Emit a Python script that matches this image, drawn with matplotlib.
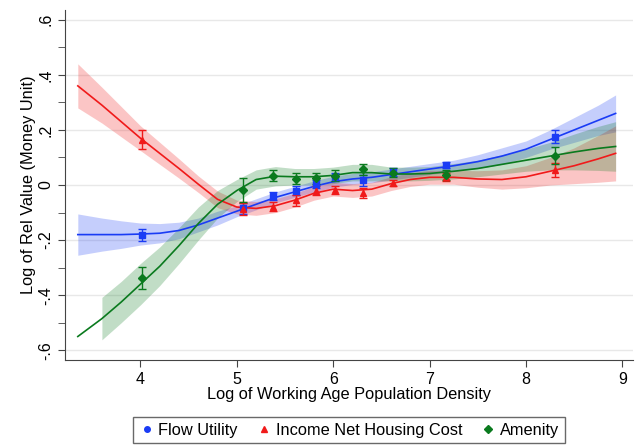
import numpy as np
import matplotlib
matplotlib.use('Agg')
import matplotlib.pyplot as plt
from matplotlib.lines import Line2D

plt.rcParams['font.family'] = ['Liberation Sans', 'DejaVu Sans']

# smoothed curves
curve_x = [3.35, 3.6, 3.8, 4.0, 4.2, 4.4, 4.6, 4.8, 5.0, 5.2, 5.4, 5.6, 5.8, 6.0,
           6.2, 6.4, 6.6, 6.8, 7.0, 7.25, 7.5, 7.75, 8.0, 8.25, 8.5, 8.75, 8.93]
flow_line = [-0.18, -0.18, -0.18, -0.178, -0.175, -0.165, -0.145, -0.12, -0.095, -0.07,
             -0.045, -0.025, -0.005, 0.012, 0.022, 0.028, 0.038, 0.048, 0.058, 0.07,
             0.085, 0.105, 0.13, 0.165, 0.2, 0.235, 0.26]
flow_band = [0.075, 0.06, 0.05, 0.04, 0.035, 0.03, 0.025, 0.025, 0.02, 0.02, 0.02, 0.02,
             0.02, 0.02, 0.02, 0.02, 0.02, 0.02, 0.02, 0.02, 0.025, 0.03, 0.03, 0.035,
             0.045, 0.055, 0.067]
inc_line = [0.36, 0.29, 0.23, 0.17, 0.115, 0.06, 0.003, -0.052, -0.08, -0.085, -0.075,
            -0.055, -0.03, -0.015, -0.02, -0.015, 0.005, 0.02, 0.028, 0.028, 0.022,
            0.02, 0.03, 0.05, 0.07, 0.095, 0.115]
inc_band = [0.08, 0.065, 0.055, 0.045, 0.04, 0.035, 0.03, 0.03, 0.025, 0.025, 0.025,
            0.025, 0.025, 0.025, 0.025, 0.025, 0.025, 0.025, 0.025, 0.025, 0.03, 0.035,
            0.04, 0.05, 0.065, 0.085, 0.1]
amen_line = [-0.55, -0.485, -0.425, -0.36, -0.295, -0.22, -0.14, -0.07, -0.02, 0.02,
             0.032, 0.03, 0.03, 0.035, 0.045, 0.045, 0.04, 0.04, 0.042, 0.05, 0.06,
             0.075, 0.09, 0.105, 0.12, 0.133, 0.14]
amen_band = [np.nan, 0.077, 0.075, 0.075, 0.07, 0.065, 0.06, 0.05, 0.04, 0.035, 0.035,
             0.03, 0.03, 0.03, 0.03, 0.03, 0.025, 0.025, 0.025, 0.028, 0.03, 0.035,
             0.04, 0.05, 0.065, 0.08, 0.09]

# binned points with error bars
pt_x = [4.02, 5.06, 5.38, 5.61, 5.82, 6.02, 6.31, 6.62, 7.17, 8.30]
flow_pts = [-0.18, -0.085, -0.04, -0.02, 0.005, 0.03, 0.018, 0.047, 0.073, 0.176]
flow_err = [0.022, 0.02, 0.015, 0.015, 0.015, 0.015, 0.02, 0.015, 0.012, 0.022]
inc_pts = [0.165, -0.088, -0.078, -0.055, -0.02, -0.018, -0.03, 0.007, 0.03, 0.055]
inc_err = [0.035, 0.022, 0.018, 0.02, 0.015, 0.015, 0.018, 0.01, 0.015, 0.025]
amen_pts = [-0.336, -0.018, 0.034, 0.022, 0.025, 0.033, 0.057, 0.045, 0.037, 0.107]
amen_err = [0.04, 0.045, 0.02, 0.02, 0.02, 0.02, 0.02, 0.015, 0.018, 0.03]

yticks = [-0.6, -0.4, -0.2, 0, 0.2, 0.4, 0.6]
ytick_labels = ['-.6', '-.4', '-.2', '0', '.2', '.4', '.6']
yminor = [-0.5, -0.3, -0.1, 0.1, 0.3, 0.5]
xticks = [4, 5, 6, 7, 8, 9]

blue = '#1a3cf5'
red = '#f01a1a'
green = '#0a7a1e'

fig = plt.figure(figsize=(6.4, 4.48), dpi=100)
ax = fig.add_axes([0.102, 0.196, 0.887, 0.782])

x = np.array(curve_x)
series = [
    (flow_line, flow_band, flow_pts, flow_err, blue, 's', 4),
    (inc_line, inc_band, inc_pts, inc_err, red, '^', 5),
    (amen_line, amen_band, amen_pts, amen_err, green, 'D', 4.5),
]
for line, band, pts, err, col, mk, ms in series:
    line = np.array(line)
    band = np.array(band)
    ok = ~np.isnan(band)
    ax.fill_between(x[ok], (line - band)[ok], (line + band)[ok], color=col,
                    alpha=0.25, linewidth=0)
for line, band, pts, err, col, mk, ms in series:
    ax.plot(x, line, color=col, linewidth=1.2)
    ax.errorbar(pt_x, pts, yerr=err, fmt=mk, color=col, markersize=ms,
                elinewidth=1, capsize=3, capthick=1)

ax.set_xlim(3.22, 9.11)
ax.set_ylim(-0.636, 0.636)
ax.set_yticks(yticks)
ax.set_yticklabels(ytick_labels, rotation=90, va='center')
ax.set_yticks(yminor, minor=True)
ax.set_xticks(xticks)
ax.tick_params(labelsize=11.5, length=5, color='#444444')
ax.tick_params(axis='y', which='minor', length=5, color='#444444')
ax.grid(axis='y', which='major', color='#e8e8e8', linewidth=1)
ax.set_axisbelow(True)
for s in ['top', 'right']:
    ax.spines[s].set_visible(False)
ax.spines['left'].set_color('#444444')
ax.spines['bottom'].set_color('#444444')

ax.set_xlabel('Log of Working Age Population Density', fontsize=11.8, labelpad=0)
ax.set_ylabel('Log of Rel Value (Money Unit)', fontsize=11.8, labelpad=2)

handles = [
    Line2D([], [], marker='o', color=blue, linestyle='', markersize=4),
    Line2D([], [], marker='^', color=red, linestyle='', markersize=5),
    Line2D([], [], marker='D', color=green, linestyle='', markersize=4),
]
fig.legend(handles, ['Flow Utility', 'Income Net Housing Cost', 'Amenity'],
           loc='center', bbox_to_anchor=(0.545, 0.04), ncol=3, fontsize=11.8,
           frameon=True, fancybox=False, edgecolor='#444444', handletextpad=0.2,
           handlelength=1.0, columnspacing=1.1, borderpad=0.35)

fig.savefig('out.png', dpi=100)
